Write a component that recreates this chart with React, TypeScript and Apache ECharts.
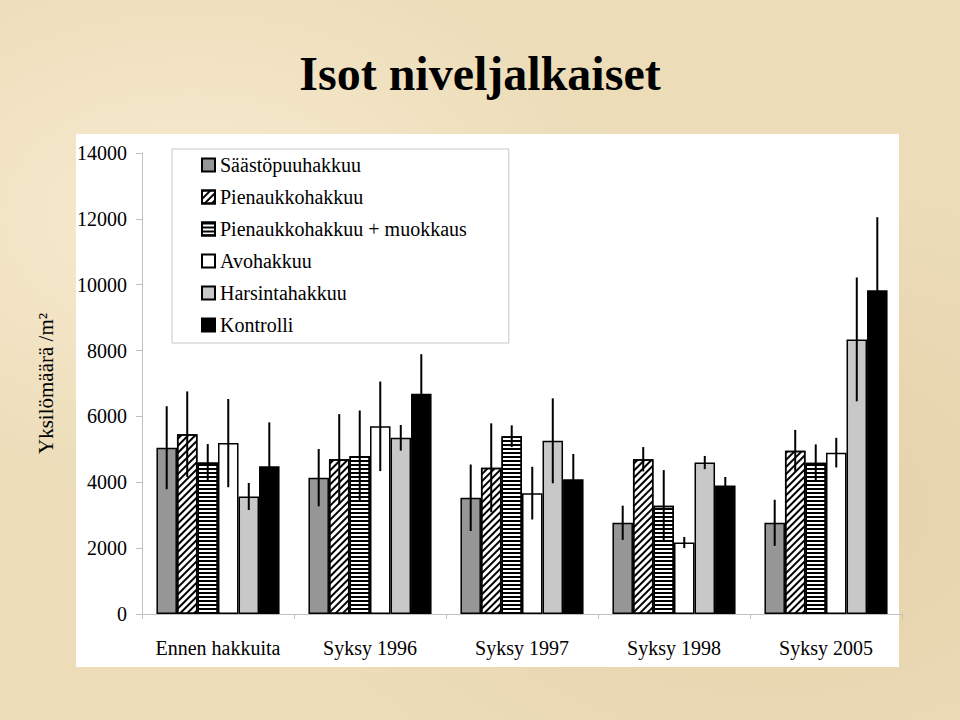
import React, { useEffect, useRef } from "react";
import * as echarts from "echarts";

const categories = ["Ennen hakkuita", "Syksy 1996", "Syksy 1997", "Syksy 1998", "Syksy 2005"];
const seriesNames = [
  "Säästöpuuhakkuu",
  "Pienaukkohakkuu",
  "Pienaukkohakkuu + muokkaus",
  "Avohakkuu",
  "Harsintahakkuu",
  "Kontrolli",
];
const saastopuu = [5050, 4140, 3530, 2770, 2770];
const pienaukko = [5460, 4700, 4440, 4700, 4960];
const pienaukkoMuokkaus = [4600, 4800, 5400, 3290, 4590];
const avohakkuu = [5190, 5700, 3670, 2170, 4900];
const harsinta = [3570, 5350, 5260, 4600, 8340];
const kontrolli = [4490, 6690, 4090, 3900, 9830];

const errSaastopuu = [1260, 870, 1010, 520, 700];
const errPienaukko = [1300, 1370, 1350, 370, 630];
const errPienaukkoMuokkaus = [560, 1380, 330, 1080, 560];
const errAvohakkuu = [1340, 1360, 800, 170, 450];
const errHarsinta = [410, 390, 1290, 200, 1880];
const errKontrolli = [1330, 1200, 770, 260, 2220];

const yTicks = [0, 2000, 4000, 6000, 8000, 10000, 12000, 14000];

const FONT = "'Liberation Serif', 'Times New Roman', serif";

export default function App() {
  const ref = useRef<HTMLDivElement>(null);
  useEffect(() => {
    if (!ref.current) return;
    const chart = echarts.init(ref.current, null, { renderer: "svg" });
    const values = [saastopuu, pienaukko, pienaukkoMuokkaus, avohakkuu, harsinta, kontrolli];
    const errs = [errSaastopuu, errPienaukko, errPienaukkoMuokkaus, errAvohakkuu, errHarsinta, errKontrolli];
    const styles: any[] = [
      { color: "#969696" },
      {
        color: "#ffffff",
        decal: {
          symbol: "rect",
          symbolSize: 1,
          dashArrayX: [1, 0],
          dashArrayY: [2, 3],
          rotation: -Math.PI / 4,
          color: "#000000",
          backgroundColor: "#ffffff",
        },
      },
      {
        color: "#ffffff",
        decal: {
          symbol: "rect",
          symbolSize: 1,
          dashArrayX: [1, 0],
          dashArrayY: [2, 2],
          rotation: 0,
          color: "#000000",
          backgroundColor: "#ffffff",
        },
      },
      { color: "#ffffff" },
      { color: "#c8c8c8" },
      { color: "#000000" },
    ];
    const barSeries = seriesNames.map((name, i) => ({
      name,
      type: "bar",
      data: values[i],
      barGap: "0%",
      barCategoryGap: "19%",
      itemStyle: { ...styles[i], borderColor: "#000", borderWidth: 1.5 },
      z: 2,
    }));
    const errData: number[][] = [];
    errs.forEach((arr, si) => {
      arr.forEach((e, ci) => {
        errData.push([ci, si, values[si][ci] - e, values[si][ci] + e]);
      });
    });
    const nS = seriesNames.length;
    chart.setOption({
      animation: false,
      title: {
        text: "Isot niveljalkaiset",
        left: "center",
        top: 44,
        textStyle: { fontFamily: FONT, fontSize: 48, fontWeight: "bold", color: "#000" },
      },
      graphic: [
        {
          type: "rect",
          z: -10,
          shape: { x: 76, y: 134, width: 823, height: 533 },
          style: { fill: "#ffffff" },
        },
      ],
      legend: {
        data: seriesNames,
        orient: "vertical",
        left: 172,
        top: 149,
        icon: "rect",
        itemWidth: 13,
        itemHeight: 13,
        itemGap: 12,
        padding: [6, 42, 8, 29],
        backgroundColor: "#ffffff",
        borderColor: "#c8c8c8",
        borderWidth: 1,
        borderRadius: 0,
        textStyle: { fontFamily: FONT, fontSize: 20, color: "#000", lineHeight: 20 },
      },
      grid: { left: 142, right: 58, top: 153, bottom: 106, containLabel: false },
      xAxis: {
        type: "category",
        data: categories,
        axisLine: { lineStyle: { color: "#c0c0c0", width: 1 } },
        axisTick: { show: true, length: 5, lineStyle: { color: "#c0c0c0" } },
        axisLabel: { fontFamily: FONT, fontSize: 20, color: "#000", margin: 24, interval: 0 },
      },
      yAxis: {
        type: "value",
        min: yTicks[0],
        max: yTicks[yTicks.length - 1],
        interval: 2000,
        name: "Yksilömäärä /m²",
        nameLocation: "middle",
        nameGap: 86,
        nameRotate: 90,
        nameTextStyle: { fontFamily: FONT, fontSize: 21, color: "#000" },
        splitLine: { show: false },
        axisLine: { show: true, lineStyle: { color: "#c0c0c0", width: 1 } },
        axisTick: { show: true, length: 6, lineStyle: { color: "#c0c0c0" } },
        axisLabel: {
          fontFamily: FONT,
          fontSize: 20,
          color: "#000",
          margin: 15,
          formatter: (v: number) => String(v),
        },
      },
      series: [
        ...barSeries,
        {
          type: "custom",
          name: "err",
          z: 5,
          data: errData,
          encode: { x: 0, y: [2, 3] },
          renderItem: (params: any, api: any) => {
            const cat = api.value(0);
            const si = api.value(1);
            const lo = api.value(2);
            const hi = api.value(3);
            const band = api.size([1, 0])[0];
            const total = band * (1 - 0.19);
            const w = total / nS;
            const x = api.coord([cat, 0])[0] - total / 2 + w * (si + 0.5);
            const y1 = api.coord([cat, lo])[1];
            const y2 = api.coord([cat, hi])[1];
            return {
              type: "line",
              shape: { x1: x, y1, x2: x, y2 },
              style: { stroke: "#000", lineWidth: 2 },
            };
          },
        },
      ],
    });
    return () => chart.dispose();
  }, []);
  return (
    <div
      style={{
        position: "fixed",
        left: 0,
        top: 0,
        width: 960,
        height: 720,
        background:
          "radial-gradient(ellipse at 20% 30%, rgba(255,245,225,0.6), rgba(255,245,225,0) 40%), radial-gradient(ellipse at 80% 70%, rgba(215,190,145,0.35), rgba(215,190,145,0) 45%), #ecdcb8",
      }}
    >
      <div ref={ref} style={{ width: 960, height: 720 }} />
    </div>
  );
}
